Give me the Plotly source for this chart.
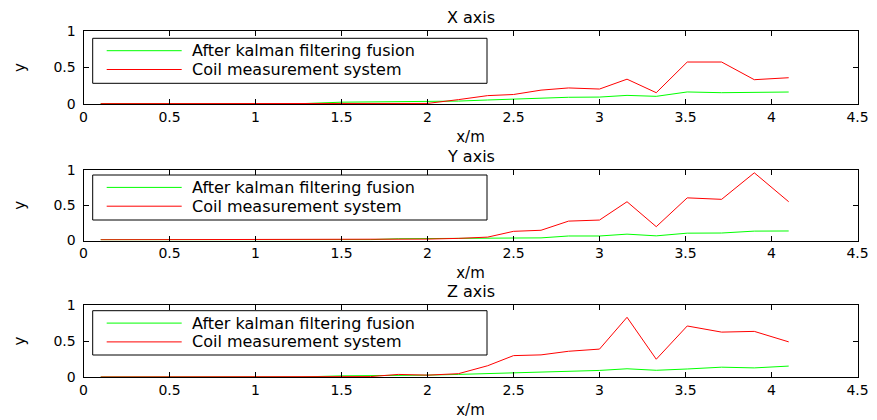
import plotly.graph_objects as go

# ---------------- data ----------------
x_m = [0.1, 0.27, 0.44, 0.6, 0.77, 0.94, 1.1, 1.27, 1.5, 1.67, 1.83, 2.0, 2.18,
       2.35, 2.5, 2.66, 2.82, 3.0, 3.16, 3.33, 3.51, 3.71, 3.9, 4.1]

kalman_x = [0.005, 0.005, 0.005, 0.005, 0.005, 0.005, 0.005, 0.005, 0.025, 0.027, 0.028, 0.03, 0.04,
            0.055, 0.068, 0.078, 0.092, 0.095, 0.118, 0.105, 0.165, 0.155, 0.155, 0.164]
coil_x = [0.005, 0.005, 0.005, 0.005, 0.005, 0.005, 0.005, 0.005, 0.005, 0.005, 0.005, 0.008, 0.06,
          0.115, 0.13, 0.19, 0.22, 0.205, 0.34, 0.155, 0.575, 0.575, 0.333, 0.36]

kalman_y = [0.01, 0.01, 0.01, 0.01, 0.01, 0.01, 0.01, 0.01, 0.01, 0.012, 0.025, 0.03, 0.03,
            0.03, 0.035, 0.037, 0.064, 0.064, 0.09, 0.066, 0.104, 0.106, 0.133, 0.135]
coil_y = [0.01, 0.01, 0.01, 0.01, 0.01, 0.01, 0.01, 0.01, 0.01, 0.01, 0.012, 0.02, 0.03,
          0.048, 0.13, 0.145, 0.275, 0.29, 0.55, 0.196, 0.605, 0.584, 0.96, 0.55]

kalman_z = [0.005, 0.005, 0.005, 0.005, 0.005, 0.005, 0.005, 0.005, 0.02, 0.022, 0.025, 0.03, 0.04,
            0.05, 0.065, 0.068, 0.08, 0.095, 0.118, 0.097, 0.115, 0.14, 0.13, 0.155]
coil_z = [0.005, 0.005, 0.005, 0.005, 0.005, 0.005, 0.005, 0.005, 0.005, 0.01, 0.04, 0.03, 0.05,
          0.16, 0.30, 0.31, 0.36, 0.39, 0.83, 0.25, 0.71, 0.625, 0.635, 0.49]

panel_titles = ["X axis", "Y axis", "Z axis"]
series_names = ["After kalman filtering fusion", "Coil measurement system"]
x_ticks = [0, 0.5, 1, 1.5, 2, 2.5, 3, 3.5, 4, 4.5]
x_tick_text = ["0", "0.5", "1", "1.5", "2", "2.5", "3", "3.5", "4", "4.5"]
y_ticks = [0, 0.5, 1]
y_tick_text = ["0", "0.5", "1"]

kalman_all = [kalman_x, kalman_y, kalman_z]
coil_all = [coil_x, coil_y, coil_z]

# ---------------- layout helpers (pixels) ----------------
W, H = 877, 420
FONT = "DejaVu Sans"
LEFT, RIGHT = 83.5, 857.5
panels_px = [(31, 104), (170, 240.5), (305, 377.3)]   # top, bottom
legend_px = [(38.3, 83.3), (175, 220), (310.7, 355)]


def fx(p):
    return p / W


def fy(p):
    return 1 - p / H


fig = go.Figure()
layout = dict(
    width=W, height=H,
    margin=dict(l=0, r=0, t=0, b=0, autoexpand=False),
    paper_bgcolor="white", plot_bgcolor="white",
    showlegend=False,
    font=dict(family=FONT, size=14, color="black"),
    shapes=[], annotations=[],
)

for i in range(3):
    sfx = "" if i == 0 else str(i + 1)
    xa, ya = "x" + sfx, "y" + sfx
    top, bot = panels_px[i]
    fig.add_trace(go.Scatter(x=x_m, y=kalman_all[i], mode="lines", name=series_names[0],
                             line=dict(color="#00ff00", width=1), xaxis=xa, yaxis=ya))
    fig.add_trace(go.Scatter(x=x_m, y=coil_all[i], mode="lines", name=series_names[1],
                             line=dict(color="#ff0000", width=1), xaxis=xa, yaxis=ya))
    common = dict(showline=True, linecolor="black", linewidth=1, mirror="ticks",
                  ticks="inside", ticklen=5, tickcolor="black", showgrid=False,
                  zeroline=False, automargin=False,
                  tickfont=dict(family=FONT, size=14, color="black"))
    layout["xaxis" + sfx] = dict(domain=[fx(LEFT), fx(RIGHT)], anchor=ya, range=[0, 4.5],
                                 tickvals=x_ticks, ticktext=x_tick_text,
                                 ticklabelstandoff=0,
                                 title=dict(text="x/m", standoff=7,
                                            font=dict(family=FONT, size=15)),
                                 **common)
    layout["yaxis" + sfx] = dict(domain=[fy(bot), fy(top)], anchor=xa, range=[0, 1],
                                 tickvals=y_ticks, ticktext=y_tick_text,
                                 ticklabelstandoff=4,
                                 title=dict(text="y", standoff=24,
                                            font=dict(family=FONT, size=15)),
                                 **common)
    # panel title
    layout["annotations"].append(dict(text=panel_titles[i], xref="paper", yref="paper",
                                      x=fx((LEFT + RIGHT) / 2), y=fy(top - 13.5),
                                      xanchor="center", yanchor="middle", showarrow=False,
                                      font=dict(family=FONT, size=16, color="black")))
    # legend box
    lt, lb = legend_px[i]
    layout["shapes"].append(dict(type="rect", xref="paper", yref="paper",
                                 x0=fx(92.7), x1=fx(487), y0=fy(lb), y1=fy(lt),
                                 line=dict(color="black", width=1), fillcolor="white",
                                 layer="above"))
    rows = [lt + 12.4, lt + 31.2]
    colors = ["#00ff00", "#ff0000"]
    for r in range(2):
        layout["shapes"].append(dict(type="line", xref="paper", yref="paper",
                                     x0=fx(106.7), x1=fx(181.7), y0=fy(rows[r]), y1=fy(rows[r]),
                                     line=dict(color=colors[r], width=1), layer="above"))
        layout["annotations"].append(dict(text=series_names[r], xref="paper", yref="paper",
                                          x=fx(190), y=fy(rows[r]), xanchor="left",
                                          yanchor="middle", showarrow=False,
                                          font=dict(family=FONT, size=16, color="black")))

fig.update_layout(**layout)
fig.write_html("out.html")
